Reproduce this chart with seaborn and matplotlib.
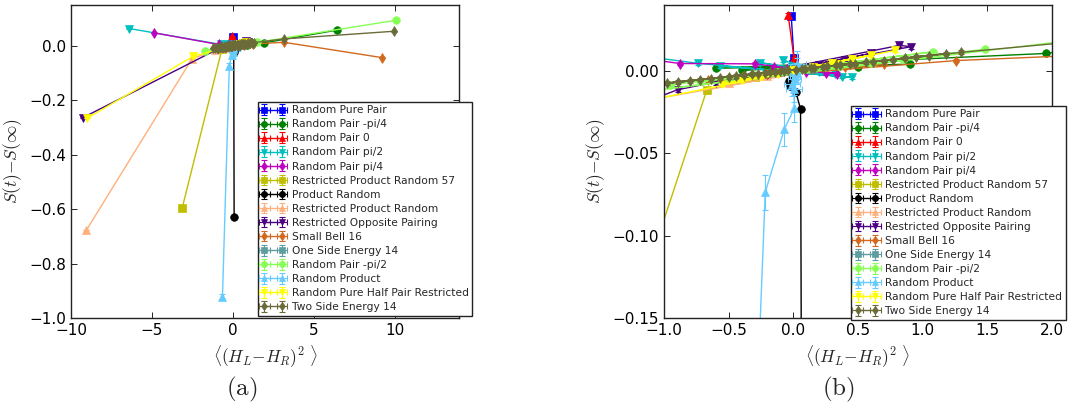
import matplotlib
matplotlib.use("Agg")
import matplotlib.pyplot as plt
import seaborn as sns

# ---------------- data ----------------
LABELS = ["Random Pure Pair", "Random Pair -pi/4", "Random Pair 0", "Random Pair pi/2",
          "Random Pair pi/4", "Restricted Product Random 57", "Product Random",
          "Restricted Product Random", "Restricted Opposite Pairing", "Small Bell 16",
          "One Side Energy 14", "Random Pair -pi/2", "Random Product",
          "Random Pure Half Pair Restricted", "Two Side Energy 14"]
COLORS = ["#0000ff", "#008000", "#ff0000", "#00bfbf", "#bf00bf", "#bfbf00", "#000000",
          "#ffb07c", "#4b0082", "#d2691e", "#5f9ea0", "#88ff55", "#66ccff",
          "#ffff00", "#6b6b3a"]
MARKERS = ["s", "o", "^", "v", "d", "s", "o", "^", "v", "d", "s", "o", "^", "v", "d"]

x_pure_pair = [-0.016, 0.004, -0.002, 0.002, 0.0]
y_pure_pair = [0.0334, 0.008, 0.004, 0.002, 0.001]

x_pair_m_pi4 = [6.42, 1.95, -0.6, 0.9, -0.4, 0.5, -0.2, 0.2, 0.0]
y_pair_m_pi4 = [0.057, 0.0105, 0.0015, 0.004, 0.0005, 0.0025, 0.0005, 0.0015, 0.001]

x_pair_0 = [-0.040, 0.006, -0.003, 0.002, 0.0]
y_pair_0 = [0.0339, 0.0075, 0.004, 0.002, 0.001]

x_pair_pi2 = [-6.4, -0.737, 0.45, -0.57, 0.38, -0.26, 0.32, -0.08, 0.2, 0.0]
y_pair_pi2 = [0.063, 0.0045, -0.004, 0.003, -0.0035, 0.005, -0.002, 0.0064, -0.001, 0.002]

x_pair_pi4 = [-4.86, -0.876, -0.3, 0.34, -0.15, 0.25, -0.05, 0.1, 0.0]
y_pair_pi4 = [0.047, 0.0044, 0.0042, -0.0017, 0.002, -0.0012, 0.001, -0.0005, 0.0003]

x_restr_57 = [-3.13, -0.668, 0.3, -0.3, 0.15, -0.1, 0.0]
y_restr_57 = [-0.596, -0.0115, 0.003, -0.004, 0.0015, -0.001, 0.0003]

x_product = [0.08, 0.056, 0.02, -0.03, -0.025, 0.0]
y_product = [-0.63, -0.0232, -0.013, -0.006, -0.009, -0.004]

x_restr_prod = [-9.05, -2.52, -1.1, 0.4, -0.5, 0.25, -0.2, 0.1, 0.0]
y_restr_prod = [-0.677, -0.048, -0.0175, 0.0035, -0.0075, 0.0025, -0.003, 0.001, 0.0]

x_opposite = [-9.26, -0.895, 0.82, 0.91, -0.6, 0.6, -0.4, 0.4, -0.2, 0.2, 0.0]
y_opposite = [-0.264, -0.0115, 0.0154, 0.0146, -0.0075, 0.0105, -0.005, 0.0068, -0.0025, 0.0035, 0.0004]

x_bell16 = [9.24, 3.15, 1.26, -0.66, 0.7, -0.4, 0.4, -0.2, 0.15, 0.0]
y_bell16 = [-0.044, 0.0125, 0.0062, -0.0057, 0.004, -0.0035, 0.0025, -0.0018, 0.0012, 0.0002]

x_one_side = [0.15, -0.12, 0.08, -0.05, 0.02]
y_one_side = [0.001, -0.001, 0.0008, -0.0003, 0.0002]

x_pair_m_pi2 = [10.06, -1.71, 1.48, -0.95, 1.08, -0.72, 0.85, -0.5, 0.6, -0.3, 0.35, -0.12, 0.1]
y_pair_m_pi2 = [0.093, -0.018, 0.013, -0.0085, 0.0115, -0.0065, 0.0072, -0.0045, 0.005, -0.0025, 0.003, -0.001, 0.0008]

x_rand_prod = [-0.64, -0.217, -0.07, 0.008, 0.005, 0.03, -0.01, 0.025, 0.01, 0.02, 0.012]
y_rand_prod = [-0.921, -0.0737, -0.0355, -0.0228, -0.011, 0.004, -0.008, 0.002, -0.005, 0.0, -0.003]
yerr_rand_prod = [0.01, 0.0108, 0.010, 0.008, 0.008, 0.008, 0.007, 0.006, 0.006, 0.005, 0.005]
xerr_rand_prod = [0.005, 0.005, 0.005, 0.005, 0.06, 0.07, 0.06, 0.05, 0.05, 0.04, 0.04]

x_half_pair = [-9.0, -2.45, 0.785, -0.55, 0.6, -0.4, 0.45, -0.25, 0.3, -0.12, 0.15, 0.0]
y_half_pair = [-0.266, -0.039, 0.0123, -0.008, 0.0095, -0.0055, 0.007, -0.0035, 0.0048, -0.0017, 0.0025, 0.0003]

x_two_side = [9.98, 3.19, 1.30, -1.22, 1.18, -1.10, 1.05, -0.98, 0.95, -0.89, 0.86, -0.80,
              0.77, -0.72, 0.70, -0.64, 0.62, -0.57, 0.56, -0.50, 0.48, -0.44, 0.44, -0.38,
              0.36, -0.32, 0.33, -0.27, 0.26, -0.22, 0.23, -0.18, 0.16, -0.14, 0.14, -0.10,
              0.09, -0.07, 0.07, -0.04, 0.02]
y_two_side = [0.053, 0.025, 0.0112, -0.0095, 0.0104, -0.0085, 0.0091, -0.0076, 0.0083, -0.0069,
              0.0076, -0.0061, 0.0068, -0.0054, 0.0062, -0.0048, 0.0056, -0.0042, 0.0051,
              -0.0036, 0.0044, -0.0031, 0.0041, -0.0026, 0.0034, -0.0021, 0.0032, -0.0017,
              0.0026, -0.0013, 0.0024, -0.0010, 0.0018, -0.0006, 0.0016, -0.0003, 0.0012,
              -0.0001, 0.0011, 0.0002, 0.0007]

XS = [x_pure_pair, x_pair_m_pi4, x_pair_0, x_pair_pi2, x_pair_pi4, x_restr_57, x_product,
      x_restr_prod, x_opposite, x_bell16, x_one_side, x_pair_m_pi2, x_rand_prod,
      x_half_pair, x_two_side]
YS = [y_pure_pair, y_pair_m_pi4, y_pair_0, y_pair_pi2, y_pair_pi4, y_restr_57, y_product,
      y_restr_prod, y_opposite, y_bell16, y_one_side, y_pair_m_pi2, y_rand_prod,
      y_half_pair, y_two_side]
YERR = [0.0011] * 12 + [yerr_rand_prod] + [0.0011] * 2
XERR = [0.006] * 12 + [xerr_rand_prod] + [0.006] * 2

LEFT_XTICKS = [-10, -5, 0, 5, 10]
LEFT_YTICKS = [-1.0, -0.8, -0.6, -0.4, -0.2, 0.0]
RIGHT_XTICKS = [-1.0, -0.5, 0.0, 0.5, 1.0, 1.5, 2.0]
RIGHT_YTICKS = [-0.15, -0.10, -0.05, 0.00]

# ---------------- style ----------------
sns.set_style("ticks")
plt.rcParams.update({
    "font.family": ["DejaVu Sans"],
    "mathtext.fontset": "cm",
    "xtick.direction": "in", "ytick.direction": "in",
    "xtick.top": True, "ytick.right": True,
    "xtick.major.size": 4, "ytick.major.size": 4,
    "xtick.major.width": 0.6, "ytick.major.width": 0.6,
    "xtick.labelsize": 11, "ytick.labelsize": 11,
    "xtick.color": "black", "ytick.color": "black",
    "axes.edgecolor": "#222222", "axes.linewidth": 1.0,
    "axes.unicode_minus": True,
})

fig = plt.figure(figsize=(10.73, 4.04), dpi=100)
ax1 = fig.add_axes([0.0662, 0.2125, 0.3619, 0.7756])
ax2 = fig.add_axes([0.6188, 0.2125, 0.3616, 0.7756])


def draw(ax):
    handles = []
    for i in range(len(LABELS)):
        c = COLORS[i]
        sns.lineplot(x=XS[i], y=YS[i], sort=False, estimator=None, errorbar=None,
                     color=c, marker=MARKERS[i], markersize=5.5, markeredgecolor=c,
                     markeredgewidth=0.5, linewidth=1.0, ax=ax, legend=False)
        line = ax.lines[-1]
        eb = ax.errorbar(XS[i], YS[i], xerr=XERR[i], yerr=YERR[i], fmt="none",
                         ecolor=c, elinewidth=0.8, capsize=2.5, capthick=0.8)
        handles.append((line, eb))
    return handles


for ax, xl, yl, xt, yt, anchor in [
        (ax1, (-10, 14), (-1.0, 0.15), LEFT_XTICKS, LEFT_YTICKS, (0.240, 0.218)),
        (ax2, (-1.0, 2.0), (-0.15, 0.04), RIGHT_XTICKS, RIGHT_YTICKS, (0.793, 0.208))]:
    hs = draw(ax)
    ax.set_xlim(*xl)
    ax.set_ylim(*yl)
    ax.set_xticks(xt)
    ax.set_yticks(yt)
    ax.set_xlabel(r"$\langle(H_L{-}H_R)^2\ \rangle$", fontsize=12.5)
    ax.set_ylabel(r"$S(t){-}S(\infty)$", fontsize=12.5)
    for s in ax.spines.values():
        s.set_visible(True)
    leg = ax.legend(hs, LABELS, loc="lower left", bbox_to_anchor=anchor,
                    bbox_transform=fig.transFigure, borderaxespad=0, fontsize=7.7,
                    numpoints=2, fancybox=False, framealpha=1, edgecolor="#222222",
                    borderpad=0.35, labelspacing=0.38, handlelength=2.25,
                    handletextpad=0.6, markerscale=0.8)
    leg.get_frame().set_linewidth(1.0)

fig.text(0.2255, 0.037, r"$\mathrm{(a)}$", fontsize=18, ha="center", va="center")
fig.text(0.781, 0.037, r"$\mathrm{(b)}$", fontsize=18, ha="center", va="center")

fig.savefig("out.png", dpi=100)
